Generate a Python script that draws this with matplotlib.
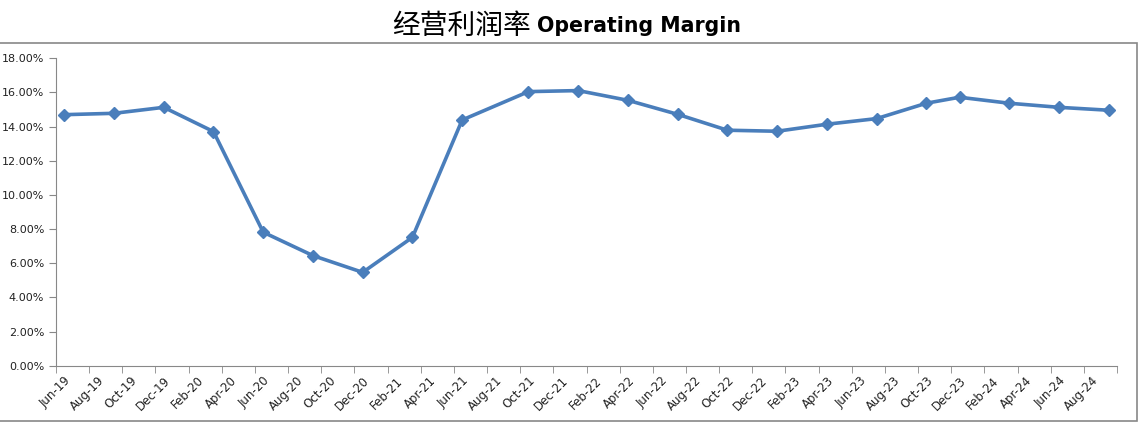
import numpy as np
import matplotlib
matplotlib.use("Agg")
import matplotlib.pyplot as plt
from matplotlib.patches import Rectangle
from matplotlib.ticker import FuncFormatter, FixedLocator

# quarter-end months (year, month) and operating margin in %
periods = [(2019, 6), (2019, 9), (2019, 12), (2020, 3), (2020, 6), (2020, 9),
           (2020, 12), (2021, 3), (2021, 6), (2021, 10), (2022, 1), (2022, 4),
           (2022, 7), (2022, 10), (2023, 1), (2023, 4), (2023, 7), (2023, 10),
           (2023, 12), (2024, 3), (2024, 6), (2024, 9)]
margin = [14.70, 14.78, 15.13, 13.71, 7.82, 6.45, 5.47, 7.52, 14.39, 16.05, 16.11,
          15.54, 14.72, 13.79, 13.73, 14.14, 14.47, 15.37, 15.72, 15.37, 15.13, 14.96]

month_names = ['Jan', 'Feb', 'Mar', 'Apr', 'May', 'Jun', 'Jul', 'Aug', 'Sep', 'Oct', 'Nov', 'Dec']
start = (2019, 6)
n_months = 64  # Jun-19 .. Sep-24

def month_idx(y, m):
    return (y - start[0]) * 12 + (m - start[1])

x = [month_idx(y, m) for y, m in periods]

label_pos = list(range(0, n_months, 2))
labels = []
for i in label_pos:
    y = start[0] + (start[1] - 1 + i) // 12
    m = (start[1] - 1 + i) % 12
    labels.append('%s-%02d' % (month_names[m], y % 100))

fig = plt.figure(figsize=(11.43, 4.25), dpi=100)
ax = fig.add_axes([56 / 1143, 1 - 365.8 / 425, (1117 - 56) / 1143, (365.8 - 58.3) / 425])

ax.plot(x, margin, color='#4A7EBB', lw=2.6, marker='D', ms=6.5, mec='#4A7EBB', mfc='#4A7EBB')

ax.set_xlim(-0.5, n_months - 0.5)
ax.set_ylim(0, 18)
ax.set_yticks(np.arange(0, 18.1, 2))
ax.yaxis.set_major_formatter(FuncFormatter(lambda v, p: '%.2f%%' % v))

ax.xaxis.set_major_locator(FixedLocator(label_pos))
ax.set_xticklabels(labels, rotation=45, ha='right', rotation_mode='anchor')
ax.xaxis.set_minor_locator(FixedLocator(np.arange(-0.5, n_months, 2)))
ax.tick_params(axis='x', which='major', length=0, pad=6, labelsize=8.5, colors='#222222')
ax.tick_params(axis='x', which='minor', length=5, color='#888888')
ax.tick_params(axis='y', length=5, color='#888888', labelsize=8, labelcolor='#222222')

for s in ['top', 'right']:
    ax.spines[s].set_visible(False)
for s in ['left', 'bottom']:
    ax.spines[s].set_color('#888888')

# outer chart frame
fig.patches.append(Rectangle((-0.01, 1 - 421 / 425), 1137 / 1143 + 0.01, (421 - 43) / 425,
                             transform=fig.transFigure, fill=False, ec='#888888', lw=1.2))

fig.text(0.4645, 0.94, '经营利润率', ha='right', va='center', fontsize=20,
         family=['Noto Sans CJK SC', 'DejaVu Sans'], weight='light')
fig.text(0.4698, 0.94, 'Operating Margin', ha='left', va='center', fontsize=14.8,
         family='DejaVu Sans', weight='bold')

fig.savefig('out.png', dpi=100)
